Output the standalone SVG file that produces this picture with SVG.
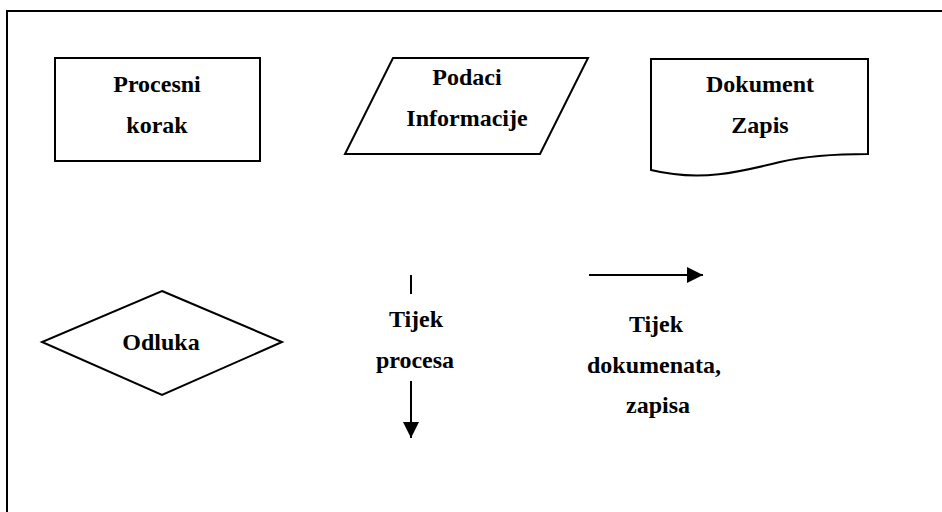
<svg xmlns="http://www.w3.org/2000/svg" width="942" height="512" viewBox="0 0 942 512">
<style>
.s{fill:#fff;stroke:#000;stroke-width:2}
.t{font-family:"Liberation Serif","Times New Roman",serif;font-weight:bold;font-size:24px;text-anchor:middle;fill:#000}
.c{stroke:#000;stroke-width:2;fill:none}
</style>
<defs>
<marker id="ah" markerWidth="8" markerHeight="8" viewBox="0 0 8 8" refX="8" refY="4" orient="auto" markerUnits="strokeWidth">
<path d="M0,0 L8,4 L0,8 Z" fill="#000"/>
</marker>
</defs>
<rect width="942" height="512" fill="#fff"/>
<path d="M7,512 V11 H942" class="c"/>
<g id="procesni">
<rect class="s" x="55" y="58" width="205" height="103"/>
<text class="t" x="157" y="92">Procesni</text>
<text class="t" x="157" y="133">korak</text>
</g>
<g id="podaci">
<polygon class="s" points="393,58 588,58 540,154 345,154"/>
<text class="t" x="467" y="85">Podaci</text>
<text class="t" x="467" y="126">Informacije</text>
</g>
<g id="dokument">
<path class="s" d="M651,59 H868 V154 C840,154 810,155 780,162 C740,172 700,182 651,170 Z"/>
<text class="t" x="760" y="92">Dokument</text>
<text class="t" x="760" y="133">Zapis</text>
</g>
<g id="odluka">
<polygon class="s" points="162,291 282,342 162,395 42,342"/>
<text class="t" x="161" y="350">Odluka</text>
</g>
<g id="tijek-procesa">
<text class="t" x="416" y="327">Tijek</text>
<text class="t" x="415" y="368">procesa</text>
</g>
<g id="tijek-dokumenata">
<text class="t" x="656" y="332">Tijek</text>
<text class="t" x="654" y="373">dokumenata,</text>
<text class="t" x="658" y="413">zapisa</text>
</g>
<g id="connectors">
<line class="c" x1="411" y1="275" x2="411" y2="294"/>
<line class="c" x1="411" y1="381" x2="411" y2="438" marker-end="url(#ah)"/>
<line class="c" x1="589" y1="275" x2="703" y2="275" marker-end="url(#ah)"/>
</g>
</svg>
